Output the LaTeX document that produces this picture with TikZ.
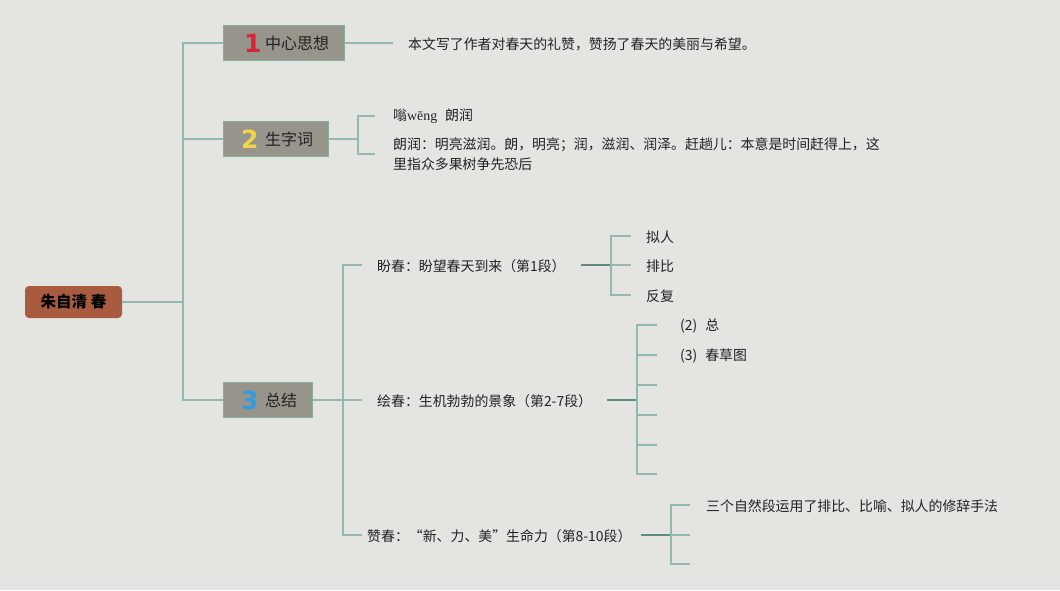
\documentclass[tikz,border=0pt]{standalone}
\usepackage{fontspec}
\setmainfont{Noto Sans CJK SC}
\newfontfamily\numfont{DejaVu Sans}
\definecolor{bg}{HTML}{E4E5E1}
\definecolor{lnlight}{HTML}{93B9AA}
\definecolor{lndark}{HTML}{5E8E7C}
\definecolor{boxfill}{HTML}{97948B}
\definecolor{boxedge}{HTML}{86AE9E}
\definecolor{rootfill}{HTML}{A85B3F}
\definecolor{numA}{HTML}{D8243A}
\definecolor{numB}{HTML}{F2D447}
\definecolor{numC}{HTML}{2E9BE2}
\definecolor{txt}{HTML}{222222}
\begin{document}
\begin{tikzpicture}[x=1pt,y=-1pt,
  conn/.style={draw=lnlight, line width=1.2pt},
  connd/.style={draw=lndark, line width=1.4pt},
  topic/.style={draw=boxedge, fill=boxfill, line width=1pt, minimum height=35pt, inner sep=0pt, anchor=west},
  num/.style={font=\numfont\bfseries\fontsize{25}{25}\selectfont, anchor=west, inner sep=0pt},
  ttl/.style={font=\fontsize{16}{16}\selectfont, text=txt, anchor=west, inner sep=0pt},
  lab/.style={font=\fontsize{13.9}{20}\selectfont, text=txt, anchor=west, inner sep=0pt}
]
\useasboundingbox (0,0) rectangle (1060,590);
\fill[bg] (0,0) rectangle (1060,590);

% root
\node[fill=rootfill, rounded corners=4pt, minimum width=97pt, minimum height=32pt, inner sep=0pt,
      font=\bfseries\fontsize{15.5}{15.5}\selectfont, text=black] (root) at (73.5,302) {朱自清 春};

% main topics
\node[topic, minimum width=121pt] (b1) at (223,43) {};
\node[num, text=numA] (n1) at (244,43) {1};
\node[ttl] (t1) at (265,43) {中心思想};
\node[topic, minimum width=105pt] (b2) at (223,139) {};
\node[num, text=numB] (n2) at (241,139) {2};
\node[ttl] (t2) at (265,139) {生字词};
\node[topic, minimum width=89pt] (b3) at (223,400) {};
\node[num, text=numC] (n3) at (241,400) {3};
\node[ttl] (t3) at (265,400) {总结};

\coordinate (j0) at (183,302);
\draw[conn] (root.east) -- (j0);
\draw[conn] (j0) |- (b1.west);
\draw[conn] (j0) |- (b2.west);
\draw[conn] (j0) |- (b3.west);

% topic 1
\node[lab] (c1) at (408,44) {本文写了作者对春天的礼赞，赞扬了春天的美丽与希望。};
\coordinate (e1) at (393,43);
\draw[conn] (b1.east) -- (e1);

% topic 2
\node[lab] (c21) at (393,116) {嗡{\fontspec{Liberation Serif}wēng}\hspace{8pt}朗润};
\node[lab, text width=520pt, align=left, anchor=north west] (c22) at (393,137) {朗润：明亮滋润。朗，明亮；润，滋润、润泽。赶趟儿：本意是时间赶得上，这\\里指众多果树争先恐后};
\coordinate (j2) at (358,139);
\coordinate (k21) at (375,116);
\coordinate (k22) at (375,154);
\draw[conn] (b2.east) -- (j2);
\draw[conn] (j2) |- (k21);
\draw[conn] (j2) |- (k22);

% topic 3
\node[lab] (s1) at (377,266) {盼春：盼望春天到来（第1段）};
\node[lab] (s2) at (377,401) {绘春：生机勃勃的景象（第2-7段）};
\node[lab] (s3) at (367,536) {赞春：“新、力、美”生命力（第8-10段）};
\coordinate (j3) at (343,400);
\coordinate (k31) at (362,265);
\coordinate (k32) at (362,400);
\coordinate (k33) at (362,535);
\draw[conn] (b3.east) -- (k32);
\draw[conn] (j3) |- (k31);
\draw[conn] (j3) |- (k33);

% sub 1
\node[lab] (p1) at (646,237) {拟人};
\node[lab] (p2) at (646,266) {排比};
\node[lab] (p3) at (646,296) {反复};
\coordinate (ja) at (611,265);
\draw[connd] (581,265) -- (ja);
\foreach \yy in {236,265,295} \draw[conn] (ja) |- (631,\yy);

% sub 2
\node[lab] (q1) at (680,326) {(2)\hspace{8pt}总};
\node[lab] (q2) at (680,356) {(3)\hspace{8pt}春草图};
\coordinate (jb) at (637,400);
\draw[connd] (607,400) -- (jb);
\foreach \yy in {325,355,385,415,445,474} \draw[conn] (jb) |- (657,\yy);

% sub 3
\node[lab] (r1) at (706,506) {三个自然段运用了排比、比喻、拟人的修辞手法};
\coordinate (jc) at (671,535);
\draw[connd] (641,535) -- (jc);
\foreach \yy in {505,535,564} \draw[conn] (jc) |- (690,\yy);
\end{tikzpicture}
\end{document}
